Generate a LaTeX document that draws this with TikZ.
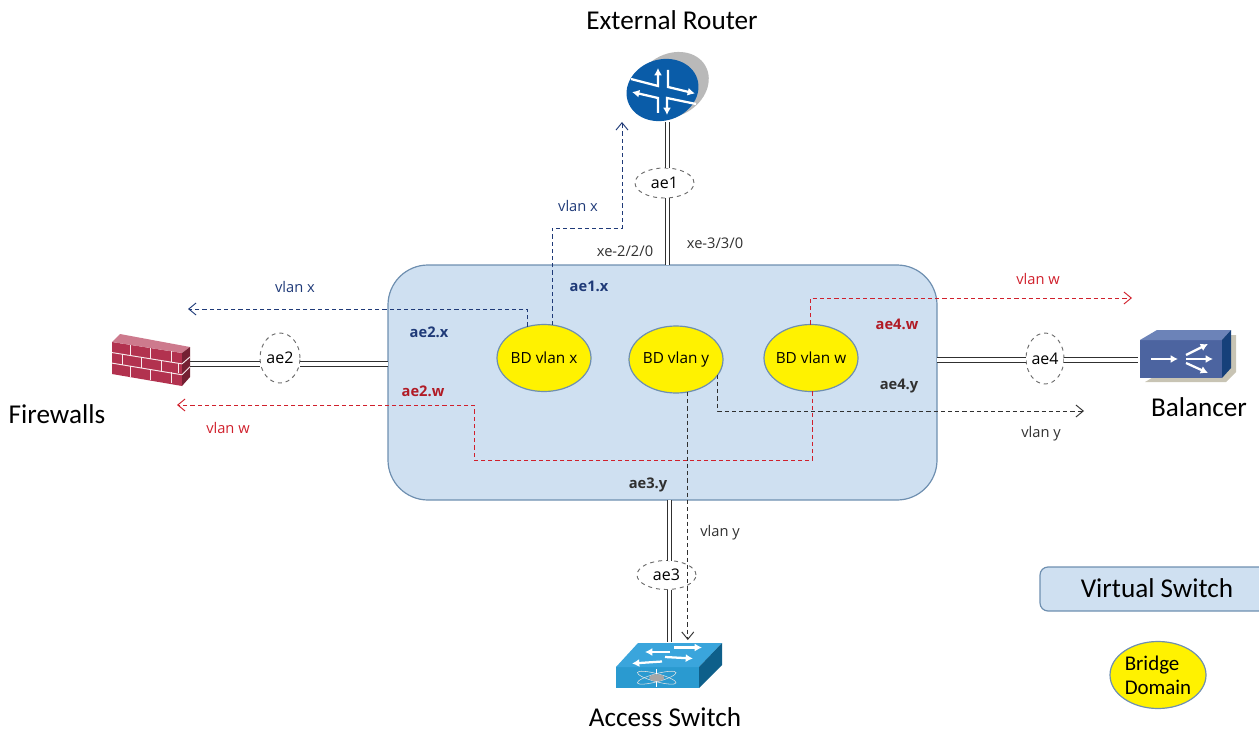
\documentclass[tikz,border=0pt]{standalone}
\usepackage{fontspec}
\setmainfont{Open Sans}
\newfontfamily\calfnt{Carlito}
\usetikzlibrary{arrows.meta,shapes.geometric}
\definecolor{vsfill}{HTML}{CFE0F1}
\definecolor{vsline}{HTML}{6E8FB0}
\definecolor{navy}{HTML}{1F3A78}
\definecolor{redd}{HTML}{D0202C}
\definecolor{grayd}{HTML}{303030}
\definecolor{jblue}{HTML}{0A5CA8}
\definecolor{brick}{HTML}{B2324F}
\definecolor{bal}{HTML}{4C64A0}
\definecolor{baltop}{HTML}{6C83B8}
\definecolor{balside}{HTML}{16407A}
\definecolor{balshade}{HTML}{C8C4B4}
\definecolor{swb}{HTML}{2A9AD0}
\definecolor{swtop}{HTML}{3AA5DC}
\definecolor{swside}{HTML}{0E5F8A}
\tikzset{
  every node/.style={inner sep=0pt,outer sep=0pt},
  vswitch/.style={draw=vsline,fill=vsfill,line width=0.9pt,rectangle},
  bd/.style={ellipse,draw=vsline,fill=yellow,line width=0.9pt,inner xsep=-10pt,inner ysep=-5pt,minimum width=70.5pt,minimum height=50.25pt,font=\fontsize{11.5}{13}\selectfont},
  aggr/.style={ellipse,draw=gray!85!black,fill=white,dashed,line width=0.7pt,inner xsep=-5pt,inner ysep=-5pt,font=\fontsize{12}{13}\selectfont,text=black},
  dbl/.style={draw=grayd,double=white,double distance=2.5pt,line width=0.9pt},
  flow/.style={dashed,dash pattern=on 3.2pt off 2.2pt,line width=0.7pt,-{Straight Barb[length=5.5pt,width=9pt,line width=0.7pt]}},
  flownav/.style={flow,draw=navy},
  flowred/.style={flow,draw=redd},
  flowblk/.style={flow,draw=grayd},
  small/.style={font=\fontsize{11}{13}\selectfont},
  tag/.style={font=\fontsize{11}{13}\selectfont\bfseries},
  big/.style={font=\calfnt\fontsize{20.4}{24}\selectfont,text=black},
  wa/.style={draw=white,line width=1.7pt,-{Latex[length=5.5pt,width=6pt]}},
  brickline/.style={draw=white!90!brick,line width=0.7pt},
}
\begin{document}
\begin{tikzpicture}[x=0.75pt,y=-0.75pt]
\useasboundingbox (0,0) rectangle (1259,731);

% named anchors
\node[vswitch,minimum width=411.75pt,minimum height=176.25pt,rounded corners=30pt] (vs) at (662.5,382.5) {};
\coordinate (routerport) at (667.5,122);
\coordinate (fwport) at (190,364);
\coordinate (balport) at (1138,360);
\coordinate (swport) at (669.5,642);
\coordinate (vsleft) at (388,364);
\coordinate (vsright) at (937,360);

% trunks
\node[aggr,minimum width=44.25pt,minimum height=22.5pt] (ae1) at (664.5,183) {ae1};
\node[aggr,minimum width=30pt,minimum height=37.5pt] (ae2) at (280,358) {ae2};
\node[aggr,minimum width=44.25pt,minimum height=21.75pt] (ae3) at (666.5,575) {ae3};
\node[aggr,minimum width=28.5pt,minimum height=38.25pt] (ae4) at (1045,358.5) {ae4};
\draw[dbl] (routerport) -- (routerport |- ae1.north);
\draw[dbl] (routerport |- ae1.south) -- (routerport |- vs.north);
\draw[dbl] (fwport) -- (fwport -| ae2.west);
\draw[dbl] (fwport -| ae2.east) -- (vsleft);
\draw[dbl] (vsright) -- (vsright -| ae4.west);
\draw[dbl] (vsright -| ae4.east) -- (balport);
\draw[dbl] (swport |- vs.south) -- (swport |- ae3.north);
\draw[dbl] (swport |- ae3.south) -- (swport);

% bridge domains
\node[bd] (bdx) at (544,358) {BD vlan x};
\node[bd] (bdy) at (676,359.5) {BD vlan y};
\node[bd] (bdw) at (811,358) {BD vlan w};

% flow end points
\coordinate (tiprouter) at (622,122);
\coordinate (bendx) at (622,228);
\coordinate (tipfwx) at (188,309);
\coordinate (tipfww) at (177,405);
\coordinate (bendw) at (474,460);
\coordinate (tipbalw) at (1132,298);
\coordinate (tipbaly) at (1084,411);
\coordinate (tipsw) at (688,640);

% flows
\draw[flownav] (bdx.76) |- (bendx) -- (tiprouter);
\draw[flownav] (bdx.118) |- (tipfwx);
\draw[flowred] (bdw.-87) |- (bendw) |- (tipfww);
\draw[flowred] (bdw.91) |- (tipbalw);
\draw[flowblk] (bdy.-20) |- (tipbaly);
\draw[flowblk] (bdy.-70) -- (bdy.-70 |- tipsw);

% router icon
\fill[gray!55,rotate around={30:(672,85)}] (672,85) ellipse (38.5 and 31);
\fill[jblue,rotate around={18:(662.5,90)}] (662.5,90) ellipse (36.5 and 30.5);
\draw[wa] (631,79) -- (658,86) -- (658,68);
\draw[wa] (668,70) -- (668,87) -- (695,93.5);
\draw[wa] (696,104) -- (667,98) -- (667,115);
\draw[wa] (658,113) -- (658,98) -- (632,92);

% firewall icon
\fill[brick] (112,342) -- (182,353) -- (182,386) -- (112,374) -- cycle;
\fill[brick!65!white] (112,342) -- (120,334) -- (190,347) -- (182,353) -- cycle;
\fill[brick!65!black] (182,353) -- (190,347) -- (190,377) -- (182,386) -- cycle;
\foreach \v in {0.33,0.66} {
  \draw[brickline] ({112},{342+32*\v}) -- ({182},{353+33*\v});
  \draw[brickline] ({182},{353+33*\v}) -- ({190},{347+30*\v});
}
\foreach \u in {0.27,0.55,0.85}
  \draw[brickline] ({112+70*\u},{342+11*\u}) -- ({112+70*\u},{342+11*\u+10.5});
\foreach \u in {0.15,0.42,0.7,0.95}
  \draw[brickline] ({112+70*\u},{342+11*\u+10.5}) -- ({112+70*\u},{342+11*\u+21});
\foreach \u in {0.27,0.55,0.85}
  \draw[brickline] ({112+70*\u},{342+11*\u+21}) -- ({112+70*\u},{342+11*\u+32});

% balancer icon
\fill[balshade] (1145,382) -- (1226,382) -- (1236,372) -- (1236,335) -- (1225,335) -- cycle;
\fill[bal] (1140,340) rectangle (1222,378);
\fill[baltop] (1140,340) -- (1157,330) -- (1231,330) -- (1222,340) -- cycle;
\fill[balside] (1222,340) -- (1231,330) -- (1231,368) -- (1222,378) -- cycle;
\draw[wa] (1151,359) -- (1178,359);
\draw[wa] (1186,355) -- (1208,344);
\draw[wa] (1186,359) -- (1213,359);
\draw[wa] (1186,363) -- (1208,373);

% switch icon
\fill[swb] (616,667) rectangle (699,688);
\fill[swtop] (616,667) -- (638,643) -- (722,643) -- (699,667) -- cycle;
\fill[swside] (699,667) -- (722,643) -- (722,665) -- (699,688) -- cycle;
\draw[wa] (670,652) -- (645,652);
\draw[wa] (674,647.5) -- (702,647.5);
\draw[wa] (665,657) -- (693,658.5);
\draw[wa] (662,661.5) -- (632,663.5);
\draw[gray!20,line width=0.4pt,rotate around={15:(656.7,677.7)}] (656.7,677.7) ellipse (20 and 4);
\draw[gray!20,line width=0.4pt,rotate around={-15:(656.7,677.7)}] (656.7,677.7) ellipse (20 and 4);
\draw[white,line width=0.7pt] (656.7,669) -- (656.7,687);
\fill[gray!70] (656.7,677.7) ellipse (7.5 and 3.5);

% labels
\node[big] (lrouter) at (672,20) {External Router};
\node[big] (lfw) at (57,414) {Firewalls};
\node[big] (lbal) at (1199,407) {Balancer};
\node[big] (lsw) at (665,717) {Access Switch};

\node[small,text=navy] (t1) at (578,206) {vlan x};
\node[small,text=navy] (t2) at (295,287) {vlan x};
\node[small,text=redd] (t3) at (228,428) {vlan w};
\node[small,text=redd] (t4) at (1038,279) {vlan w};
\node[small,text=grayd] (t5) at (1041,433.5) {vlan y};
\node[small,text=grayd] (t6) at (720,532.5) {vlan y};
\node[small,text=grayd] (t7) at (625,251) {xe-2/2/0};
\node[small,text=grayd] (t8) at (715,243) {xe-3/3/0};

\node[tag,text=navy] (t9) at (589,286) {ae1.x};
\node[tag,text=navy] (t10) at (429,332) {ae2.x};
\node[tag,text=redd!85!black] (t11) at (423,391) {ae2.w};
\node[tag,text=redd!85!black] (t12) at (897,324) {ae4.w};
\node[tag,text=grayd] (t13) at (899,386) {ae4.y};
\node[tag,text=grayd] (t14) at (648,485) {ae3.y};

% legend
\begin{scope}
\clip (1000,540) rectangle (1259,620);
\node[vswitch,minimum width=172.5pt,minimum height=33pt,rounded corners=6pt] (lgvs) at (1155,589) {};
\end{scope}
\node[big] (lgvst) at (1157,588) {Virtual Switch};
\node[bd,minimum width=72pt,minimum height=50.25pt,font=\calfnt\fontsize{15.7}{18}\selectfont,align=left] (lgbd) at (1158,675) {Bridge\\Domain};
\end{tikzpicture}
\end{document}
